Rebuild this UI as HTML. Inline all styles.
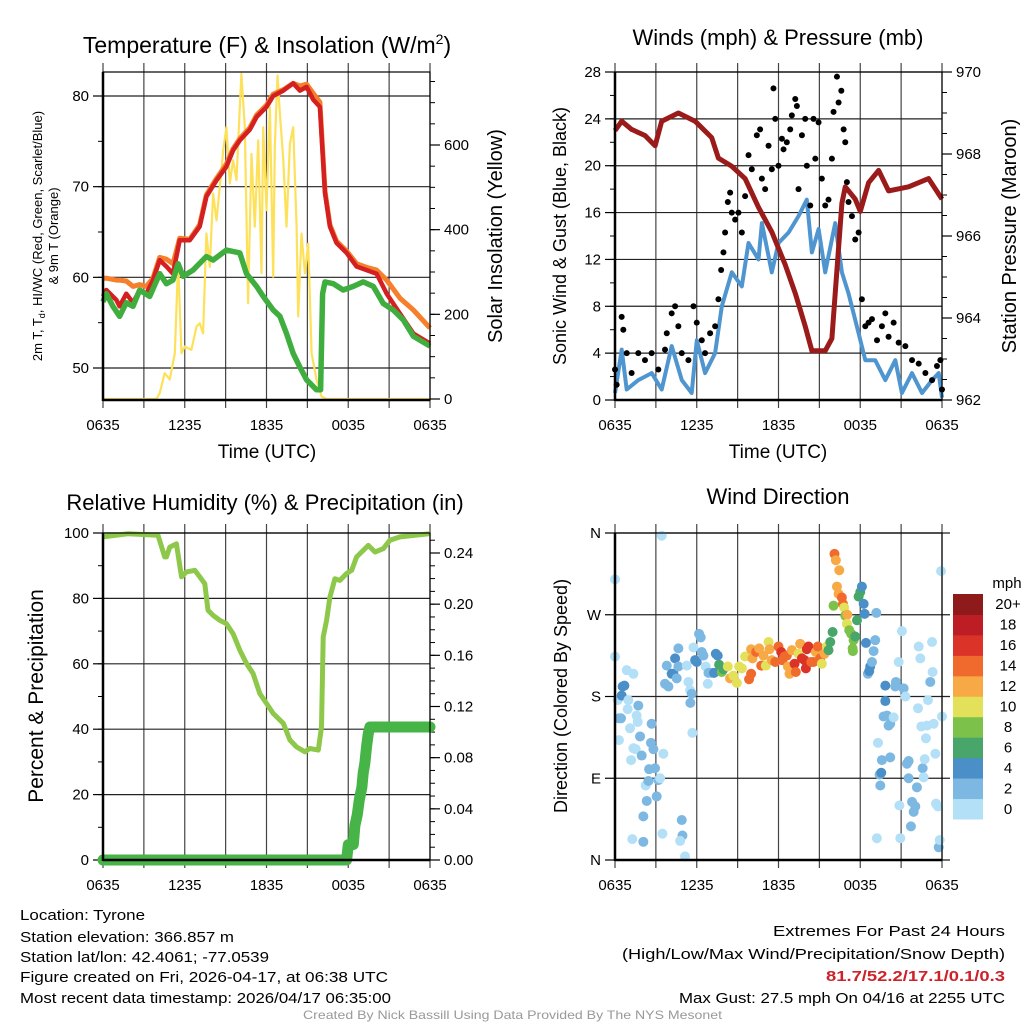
<!DOCTYPE html>
<html><head><meta charset="utf-8"><style>
html,body{margin:0;padding:0;background:#fff;}
svg{display:block;font-family:"Liberation Sans",sans-serif;}
</style></head><body>
<svg id="chart" width="1024" height="1024" viewBox="0 0 1024 1024" xmlns="http://www.w3.org/2000/svg">
<rect width="1024" height="1024" fill="#fff"/>
<text x="267" y="53" font-size="23" text-anchor="middle">Temperature (F) &amp; Insolation (W/m<tspan dy="-9" font-size="14">2</tspan><tspan dy="9">)</tspan></text>
<text x="778" y="45" font-size="22" text-anchor="middle">Winds (mph) &amp; Pressure (mb)</text>
<text x="265" y="510" font-size="22" text-anchor="middle">Relative Humidity (%) &amp; Precipitation (in)</text>
<text x="778" y="504" font-size="22" text-anchor="middle">Wind Direction</text>
<text x="267" y="458" font-size="19" text-anchor="middle">Time (UTC)</text>
<text x="778" y="458" font-size="19" text-anchor="middle">Time (UTC)</text>
<text transform="translate(42,236) rotate(-90)" font-size="13" text-anchor="middle">2m T, T<tspan font-size="9" dy="3">d</tspan><tspan dy="-3">, HI/WC (Red, Green, Scarlet/Blue)</tspan></text>
<text transform="translate(58,236) rotate(-90)" font-size="13" text-anchor="middle">&amp; 9m T (Orange)</text>
<text transform="translate(502,236) rotate(-90)" font-size="20" text-anchor="middle">Solar Insolation (Yellow)</text>
<text transform="translate(566,236) rotate(-90)" font-size="18" text-anchor="middle">Sonic Wind &amp; Gust (Blue, Black)</text>
<text transform="translate(1016,236) rotate(-90)" font-size="20" text-anchor="middle">Station Pressure (Maroon)</text>
<text transform="translate(43,696) rotate(-90)" font-size="21" text-anchor="middle">Percent &amp; Precipitation</text>
<text transform="translate(567,696) rotate(-90)" font-size="18" text-anchor="middle">Direction (Colored By Speed)</text>
<g font-size="15">
<text x="20" y="920" textLength="125" lengthAdjust="spacingAndGlyphs">Location: Tyrone</text>
<text x="20" y="942" textLength="214" lengthAdjust="spacingAndGlyphs">Station elevation: 366.857 m</text>
<text x="20" y="962" textLength="249" lengthAdjust="spacingAndGlyphs">Station lat/lon: 42.4061; -77.0539</text>
<text x="20" y="982" textLength="368" lengthAdjust="spacingAndGlyphs">Figure created on Fri, 2026-04-17, at 06:38 UTC</text>
<text x="20" y="1003" textLength="371" lengthAdjust="spacingAndGlyphs">Most recent data timestamp: 2026/04/17 06:35:00</text>
</g>
<g font-size="15">
<text x="773" y="936" textLength="232" lengthAdjust="spacingAndGlyphs">Extremes For Past 24 Hours</text>
<text x="622" y="959" textLength="383" lengthAdjust="spacingAndGlyphs">(High/Low/Max Wind/Precipitation/Snow Depth)</text>
<text x="826" y="981" font-weight="bold" fill="#cc2229" textLength="179" lengthAdjust="spacingAndGlyphs">81.7/52.2/17.1/0.1/0.3</text>
<text x="679" y="1003" textLength="326" lengthAdjust="spacingAndGlyphs">Max Gust: 27.5 mph On 04/16 at 2255 UTC</text>
</g>
<text x="303" y="1019" font-size="12" fill="#999" textLength="419" lengthAdjust="spacingAndGlyphs">Created By Nick Bassill Using Data Provided By The NYS Mesonet</text>
</svg>
<script>
// ---------- data ----------
const xTickHours = [0, 3, 6, 9, 12, 15, 18, 21, 24];
const xTickLabels = ["0635", "", "1235", "", "1835", "", "0035", "", "0635"];

const tempHours = [0,0.24,0.98,1.22,1.71,2.2,2.69,3.18,3.67,4.16,4.65,5.14,5.63,6.37,7.1,7.59,8.33,9.06,9.55,10.04,10.78,11.27,12,12.49,13.23,13.96,14.45,14.94,15.43,15.92,16.29,16.65,17.14,17.88,18.61,19.35,20.08,20.82,21.8,22.78,24];
const temp2m = [57.9,58.6,57.5,56.8,58.2,57.2,58.6,58.2,59.7,61.9,61.2,60.4,64.1,64.1,65.6,68.9,70.7,72.2,74.0,75.1,76.3,77.7,78.8,80.0,80.6,81.4,80.6,81.0,79.6,78.8,69.3,65.6,63.8,62.7,61.2,60.8,60.4,58.2,56.0,53.8,52.7];
const temp9m = [59.9,59.9,59.7,59.7,59.6,59.0,59.2,59.0,59.9,62.2,62.0,61.5,64.3,64.2,65.8,69.1,70.9,72.5,74.2,75.3,76.5,77.9,79.0,80.2,80.7,81.4,81.1,81.3,80.3,79.3,69.5,65.8,64.0,62.9,61.5,61.1,60.8,59.7,57.7,56.4,54.4];
const dewHours = [0,0.24,0.73,1.22,1.71,2.2,2.69,3.43,4.16,4.65,5.14,5.51,5.88,6.61,7.59,8.08,9.06,10.04,10.53,11.27,11.76,12.49,12.98,13.47,13.96,14.45,14.94,15.67,15.97,16.12,16.29,16.9,17.63,18.37,19.1,19.84,20.57,21.31,22.04,22.78,24];
const dewPoint = [57.3,58.2,56.8,55.7,57.2,56.8,58.6,57.9,60.4,59.3,59.7,61.5,60.1,60.8,62.3,61.9,63.0,62.7,60.4,59.0,57.9,56.4,55.7,53.8,51.6,50.1,48.7,47.6,47.6,58.2,59.5,59.3,58.6,59.0,59.5,59.0,57.1,56.4,55.3,53.5,52.4];
const solarHours = [0,3.92,4.16,4.53,4.9,5.27,5.51,5.76,6.0,6.49,6.86,7.1,7.35,7.59,7.84,8.08,8.33,8.57,8.82,9.06,9.31,9.55,9.8,10.04,10.16,10.41,10.65,10.9,11.14,11.39,11.63,11.76,12.0,12.25,12.49,12.61,12.81,12.98,13.23,13.47,13.72,13.96,14.21,14.33,14.57,14.82,15.06,15.31,15.67,16.04,16.41,24];
const solarValues = [0,0,14,61,46,108,320,108,124,116,171,179,155,391,312,485,422,501,587,642,509,564,517,689,768,642,226,579,407,611,297,642,446,689,289,595,764,674,564,407,603,642,407,195,391,297,367,108,46,6,0,0];
const tempTicks = [50,60,70,80];
const solarTicks = [0,200,400,600];

const windHours = [0,0.49,0.86,1.71,2.69,3.43,4.16,4.9,5.63,6.0,6.61,7.35,7.84,8.57,9.31,9.8,10.53,10.78,11.51,12,12.74,13.47,14.08,14.45,14.94,15.43,16.16,16.65,17.14,17.88,18.37,19.1,19.84,20.57,21.06,21.8,22.53,23.27,23.76,24];
const windSpeed = [0.6,4.3,0.9,1.7,2.3,0.9,4.6,1.7,0.6,5.1,2.3,4.0,8.0,10.9,9.7,13.4,12,15.1,10.9,13.4,14.3,15.7,17.1,12.6,14.6,10.9,15.1,10.9,9.1,5.7,3.4,3.4,1.7,3.4,0.6,2.3,0.6,1.7,2.3,0.2];
const gustHours = [0,0.12,0.49,0.61,0.86,1.22,1.71,2.2,2.69,3.18,3.67,3.8,4.16,4.41,4.65,4.9,5.39,5.76,6.0,6.37,6.61,6.98,7.35,7.59,7.79,7.96,8.08,8.28,8.45,8.57,8.82,9.06,9.31,9.55,9.8,10.04,10.41,10.65,10.78,11.02,11.27,11.51,11.63,11.76,12.0,12.25,12.37,12.61,12.86,12.98,13.23,13.35,13.47,13.72,13.96,14.08,14.33,14.57,14.7,14.94,15.18,15.43,15.67,15.92,16.04,16.29,16.41,16.61,16.78,16.9,17.02,17.14,17.39,17.63,17.88,18.12,18.37,18.61,18.86,19.23,19.59,19.84,20.08,20.45,20.82,21.31,21.8,22.29,22.78,23.27,23.63,23.88,24];
const gustSpeed = [2.6,1.3,7.1,6.0,4.0,2.3,4.0,3.4,4.0,2.6,4.3,5.7,7.4,8.0,6.3,4.0,3.4,8.0,6.6,5.1,4.0,5.7,6.3,8.6,11.1,12.6,14.3,16.9,17.7,16,15.4,16,14.3,17.4,20.9,19.7,22.6,23.1,18.9,18,21.7,19.7,26.6,24,20,22.3,21.4,22,23.1,24.3,25.7,25.1,18,22.6,24,20,16.6,24,20.6,23.7,18.9,16.6,17.1,20.6,24.6,27.6,25.4,26.4,23.1,22,18.6,16.9,15.7,13.7,14.3,8.6,6.3,6.6,6.9,5.1,6.3,7.4,5.4,6.6,4.9,4.6,3.4,3.1,2.3,1.7,2.9,3.4,0.9];
const pressHours = [0,0.49,1.22,2.2,2.94,3.43,4.65,5.88,7.1,7.59,8.57,9.55,10.53,11.51,12.49,13.23,13.96,14.45,15.43,15.92,16.16,16.65,16.9,17.63,18,18.61,19.35,20.08,21.55,23.02,24];
const pressure = [968.57,968.8,968.6,968.45,968.2,968.8,969.0,968.8,968.4,967.9,967.7,967.4,966.7,966.1,965.3,964.6,963.8,963.2,963.2,963.5,964.6,966.8,967.2,966.9,966.6,967.3,967.6,967.1,967.2,967.4,966.9];
const windTicks = [0,4,8,12,16,20,24,28];
const pressTicks = [962,964,966,968,970];

const rhHours = [0,1.84,4.04,4.53,4.65,4.9,5.39,5.76,6.12,6.74,7.1,7.47,7.71,8.08,8.57,9.06,9.55,10.04,10.53,11.02,11.51,12,12.49,13.23,13.72,14.2,14.82,15.18,15.8,16.04,16.16,16.41,16.65,17.02,17.39,17.88,18.25,18.61,18.98,19.47,19.96,20.57,21.06,21.8,24];
const rhValues = [98.8,99.8,99.3,92.7,92.7,95.7,96.7,86.6,88.1,88.6,86.6,84.5,76.4,74.8,73.3,72.3,69.2,64.2,60.1,57,50.9,47.9,44.8,41.8,36.7,34.6,33.1,34.1,33.6,40.7,68.2,73.3,80.4,86,85.5,87.6,88.6,92.7,94.2,96.2,94.2,95.2,97.8,98.8,99.8];
const precipHours = [0,17.88,18.0,18.37,18.49,18.66,18.81,19.0,19.1,19.22,19.35,19.47,19.59,24];
const precipValues = [0,0,0.012,0.012,0.027,0.035,0.047,0.057,0.068,0.076,0.089,0.099,0.104,0.104];
const rhTicks = [0,20,40,60,80,100];
const precipTicks = [0,0.04,0.08,0.12,0.16,0.20,0.24];
const precipTickLabels = ["0.00","0.04","0.08","0.12","0.16","0.20","0.24"];

const dirHours = [0,0,0.2,0.29,0.44,0.29,0.56,0.69,0.49,0.86,0.98,0.93,1.1,1.35,1.59,1.71,1.67,1.35,1.52,1.18,1.84,1.96,1.27,2.08,2.08,2.33,2.25,2.45,2.5,2.64,2.69,2.82,2.94,3.06,3.18,3.31,3.43,3.55,3.48,
 3.67,3.92,3.8,4.16,4.29,4.41,4.53,4.65,4.65,5.27,4.9,4.95,5.14,4.78,5.39,5.51,5.63,5.53,5.68,5.76,5.88,6.0,6.17,6.29,6.37,6.49,6.66,6.81,6.86,7.1,7.27,7.4,7.54,
 7.64,7.84,7.96,8.28,8.45,8.69,8.94,9.11,9.31,9.55,9.84,9.99,9.99,10.09,10.36,10.58,10.73,10.9,11.07,11.27,11.34,11.51,11.76,12.0,12.2,12.29,12.44,12.61,12.69,12.81,12.98,13.18,13.27,13.47,13.59,13.72,13.91,14.01,14.08,14.2,14.4,14.57,14.74,14.89,15.06,15.18,15.38,15.55,15.67,15.8,15.97,
 16.04,16.11,16.21,16.46,16.29,16.41,16.65,16.73,16.82,16.9,17.05,17.02,17.19,17.34,17.51,17.63,17.44,17.46,17.76,17.88,18.0,18.12,18.25,18.32,18.42,18.56,18.73,18.66,18.86,18.98,19.1,19.18,
 19.3,19.59,19.42,19.54,19.47,19.22,19.71,19.96,19.84,19.84,20.08,20.2,20.2,20.45,20.57,20.62,20.82,20.87,20.94,21.06,21.18,21.31,21.43,21.55,21.55,21.72,21.8,21.92,22.04,22.16,22.24,22.29,22.41,22.48,22.58,22.73,22.65,22.82,22.9,22.97,23.14,23.27,23.31,23.39,23.51,23.56,23.71,23.76,23.83,23.93,24];
const dirDegrees = [309,224,176,156,156,132,191,192,181,209,176,166,145,205,159,170,152,123,122,110,136,115,23,48,20,65,82,87,100,129,150,122,101,70,88,90,357,117,29,
 194,191,214,205,205,222,200,233,213,214,44,27,4,21,196,187,183,173,140,234,220,218,249,245,229,225,213,194,206,206,206,227,225,
 215,207,210,213,200,203,195,213,211,224,199,205,232,222,229,233,214,225,214,240,232,220,218,235,229,220,224,225,213,205,231,216,207,227,238,222,220,211,232,235,218,218,229,235,222,216,227,235,231,240,251,
 280,337,330,319,301,293,289,282,278,269,270,260,253,249,242,246,233,230,264,290,295,301,282,271,239,205,213,208,218,230,242,272,
 129,110,94,96,82,24,158,159,192,175,148,150,113,157,191,196,218,60,24,252,189,180,106,109,90,37,64,53,59,80,167,235,222,147,101,111,91,134,148,176,196,240,207,150,117,62,59,14,22,318,158];
const dirSpeeds = [0,0,0,2,2,0,4,4,4,0,0,0,0,0,0,2,0,0,0,0,2,2,0,2,2,2,0,2,2,2,2,2,2,2,2,0,0,0,0,
 2,2,2,4,4,4,2,2,2,0,2,2,0,0,0,0,2,2,0,0,4,4,2,2,2,2,0,0,2,2,4,4,4,
 6,8,6,10,12,10,10,10,10,10,14,14,12,12,14,12,14,12,10,10,12,12,14,14,16,14,14,14,12,12,12,16,14,10,12,16,16,16,16,16,14,14,12,14,14,10,12,10,6,6,6,
 8,14,12,12,12,12,14,14,10,8,12,10,8,8,8,6,8,8,6,6,6,4,4,4,4,2,4,4,2,2,2,2,
 0,2,2,4,2,0,2,2,4,4,2,2,2,0,2,2,0,0,0,0,2,0,2,2,2,2,2,2,2,2,0,0,0,0,2,0,0,0,0,0,2,0,0,0,0,0,0,2,0,0,0];
const dirTicks = [0,90,180,270,360];
const dirTickLabels = ["N","E","S","W","N"];
const speedLabels = ["0","2","4","6","8","10","12","14","16","18","20+"];
const speedColors = ["#b3e0f7","#7db8e3","#4a8fc7","#48a66b","#7cc24a","#e3e05a","#f7a945","#ef6a2c","#dc3329","#bd1e26","#8e1a1b"];

// ---------- helpers ----------
const NS = "http://www.w3.org/2000/svg";
const svg = document.getElementById("chart");
function mk(tag, attrs, parent) {
  const el = document.createElementNS(NS, tag);
  for (const k in attrs) el.setAttribute(k, attrs[k]);
  (parent || svg).appendChild(el);
  return el;
}
function lin(d0, d1, r0, r1) { return v => r0 + (v - d0) * (r1 - r0) / (d1 - d0); }
function pathFrom(xs, ys, fx, fy) {
  return xs.map((x, i) => (i ? "L" : "M") + fx(x).toFixed(1) + "," + fy(ys[i]).toFixed(1)).join("");
}

function panel(name, x0, x1, y0, y1) {
  const g = mk("g", {});
  
  
  const sx = lin(0, 24, x0, x1);
  xTickHours.forEach((h, i) => {
    const gl = mk("line", {x1: sx(h), x2: sx(h), y1: y0 - 9, y2: y1 + 8, stroke: "#444", "stroke-width": 1.2}, g);
    
    
    if (xTickLabels[i]) {
      const t = mk("text", {x: sx(h), y: y1 + 30, "font-size": 15, "text-anchor": "middle"}, g);
      
      
      t.textContent = xTickLabels[i];
    }
  });
  return {g, sx};
}
function yAxis(g, side, x, y0, y1, scale, ticks, labels, minorStep, dmin, dmax, gridX0, gridX1, grid) {
  const dir = side === "left" ? -1 : 1;
  if (minorStep) {
    for (let v = dmin; v <= dmax + 1e-9; v += minorStep) {
      const y = scale(v);
      if (y < y0 - 0.5 || y > y1 + 0.5) continue;
      const m = mk("line", {x1: x, x2: x + dir * 5, y1: y, y2: y, stroke: "#000", "stroke-width": 1}, g);
      
      
    }
  }
  ticks.forEach((v, i) => {
    const y = scale(v);
    if (grid) {
      const gl = mk("line", {x1: gridX0, x2: gridX1, y1: y, y2: y, stroke: "#222", "stroke-width": 1.2}, g);
      
      
    }
    const tk = mk("line", {x1: x, x2: x + dir * 10, y1: y, y2: y, stroke: "#000", "stroke-width": 1.2}, g);
    
    
    const t = mk("text", {x: x + dir * 14, y: y + 5, "font-size": 15, "text-anchor": side === "left" ? "end" : "start"}, g);
    
    
    t.textContent = labels ? labels[i] : String(v);
  });
}
function frame(g, x0, x1, y0, y1) {
  const r = mk("rect", {x: x0, y: y0, width: x1 - x0, height: y1 - y0, fill: "none", stroke: "#000", "stroke-width": 1.2}, g);
  
  
  const l = mk("line", {x1: x0, x2: x0, y1: y0, y2: y1 + 1, stroke: "#000", "stroke-width": 2.5}, g);
  
  
  const b = mk("line", {x1: x0, x2: x1, y1: y1, y2: y1, stroke: "#000", "stroke-width": 2.5}, g);
  
  
}

// ---------- panel 1: temperature ----------
(function () {
  const x0 = 103, x1 = 430, y0 = 72, y1 = 400;
  const {g, sx} = panel("temperature-panel", x0, x1, y0, y1);
  const yT = lin(50, 80, 368, 96);
  const yS = lin(0, 600, 399, 145);
  yAxis(g, "left", x0, y0, y1, yT, tempTicks, null, 5, 45, 85, x0, x1, true);
  yAxis(g, "right", x1, y0, y1, yS, solarTicks, null, 50, 0, 800, x0, x1, false);
  const s = mk("path", {d: pathFrom(solarHours, solarValues, sx, yS), fill: "none", stroke: "#fde15a", "stroke-width": 2.2, "stroke-linejoin": "round"}, g);
  
  
  const o = mk("path", {d: pathFrom(tempHours, temp9m, sx, yT), fill: "none", stroke: "#f57f2a", "stroke-width": 5, "stroke-linejoin": "round"}, g);
  
  
  const r = mk("path", {d: pathFrom(tempHours, temp2m, sx, yT), fill: "none", stroke: "#d42020", "stroke-width": 4.5, "stroke-linejoin": "round"}, g);
  
  
  const d = mk("path", {d: pathFrom(dewHours, dewPoint, sx, yT), fill: "none", stroke: "#3fae3f", "stroke-width": 5.5, "stroke-linejoin": "round"}, g);
  
  
  frame(g, x0, x1, y0, y1);
})();

// ---------- panel 2: wind & pressure ----------
(function () {
  const x0 = 615, x1 = 942, y0 = 72, y1 = 400;
  const {g, sx} = panel("wind-panel", x0, x1, y0, y1);
  const yW = lin(0, 28, 400, 72);
  const yP = lin(962, 970, 400, 72);
  yAxis(g, "left", x0, y0, y1, yW, windTicks, null, 2, 0, 28, x0, x1, true);
  yAxis(g, "right", x1, y0, y1, yP, pressTicks, null, 0.5, 962, 970, x0, x1, false);
  const w = mk("path", {d: pathFrom(windHours, windSpeed, sx, yW), fill: "none", stroke: "#4f95d0", "stroke-width": 4, "stroke-linejoin": "round"}, g);
  
  
  gustHours.forEach((h, i) => {
    const c = mk("circle", {cx: sx(h), cy: yW(gustSpeed[i]), r: 3, fill: "#000"}, g);
    
    
  });
  const p = mk("path", {d: pathFrom(pressHours, pressure, sx, yP), fill: "none", stroke: "#9b1b1b", "stroke-width": 5, "stroke-linejoin": "round"}, g);
  
  
  frame(g, x0, x1, y0, y1);
})();

// ---------- panel 3: RH & precip ----------
(function () {
  const x0 = 103, x1 = 430, y0 = 533, y1 = 860;
  const {g, sx} = panel("humidity-panel", x0, x1, y0, y1);
  const yR = lin(0, 100, 860, 533);
  const yPr = lin(0, 0.24, 860, 553);
  yAxis(g, "left", x0, y0, y1, yR, rhTicks, null, 10, 0, 100, x0, x1, true);
  yAxis(g, "right", x1, y0, y1, yPr, precipTicks, precipTickLabels, 0.01, 0, 0.26, x0, x1, false);
  const r = mk("path", {d: pathFrom(rhHours, rhValues, sx, yR), fill: "none", stroke: "#8dc84b", "stroke-width": 5, "stroke-linejoin": "round"}, g);
  
  
  const p = mk("path", {d: pathFrom(precipHours, precipValues, sx, yPr), fill: "none", stroke: "#46b446", "stroke-width": 11, "stroke-linejoin": "round", "stroke-linecap": "round"}, g);
  
  
  frame(g, x0, x1, y0, y1);
})();

// ---------- panel 4: wind direction ----------
(function () {
  const x0 = 615, x1 = 942, y0 = 533, y1 = 860;
  const {g, sx} = panel("wind-direction-panel", x0, x1, y0, y1);
  const yD = lin(0, 360, 860, 533);
  yAxis(g, "left", x0, y0, y1, yD, dirTicks, dirTickLabels, 0, 0, 360, x0, x1 + 8, true);
  dirHours.forEach((h, i) => {
    const idx = Math.min(10, Math.floor(dirSpeeds[i] / 2));
    const c = mk("circle", {cx: sx(h), cy: yD(dirDegrees[i]), r: 5, fill: speedColors[idx]}, g);
    
    
  });
  frame(g, x0, x1, y0, y1);
  const cb = mk("g", {}, svg);
  
  
  const cbTop = 594, cbBot = 819, h = (cbBot - cbTop) / speedColors.length;
  speedColors.forEach((col, i) => {
    const y = cbBot - (i + 1) * h;
    const r = mk("rect", {x: 953, y: y, width: 30, height: h + 0.5, fill: col}, cb);
    
    
    const t = mk("text", {x: 1008, y: y + h / 2 + 5, "font-size": 15, "text-anchor": "middle"}, cb);
    
    
    t.textContent = speedLabels[i];
  });
  const u = mk("text", {x: 1007, y: 588, "font-size": 15, "text-anchor": "middle"}, cb);
  
  
  u.textContent = "mph";
})();
</script>
</body></html>
